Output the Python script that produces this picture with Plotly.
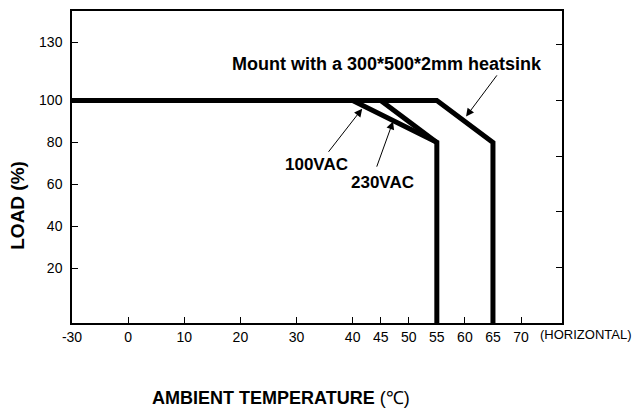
import plotly.graph_objects as go

# ---- data (temperatures in °C, load in %) ----
temp_100vac = [-30, 40, 55, 55]
load_100vac = [100, 100, 80, 0]
temp_230vac = [45, 55]
load_230vac = [100, 80]
temp_heatsink = [-30, 55, 65, 65]
load_heatsink = [100, 100, 80, 0]

x_ticks = [-30, 0, 10, 20, 30, 40, 45, 50, 55, 60, 65, 70]
y_ticks = [20, 40, 60, 80, 100, 130]
y2_tickvals = [1, 2, 3, 4, 5]


# the drawing uses a broken temperature scale (-30..0 compressed) and
# an irregular load scale; map values onto the linear plotting axis
def tx(t):
    return t if t >= 0 else t / 3.0


def ly(v):
    if v < 20:
        return 20 - (20 - v) * 1.311
    if v > 100:
        return 100 + (v - 100) * 0.921
    return v


FONT = "Liberation Sans, Arial, sans-serif"
line_style = dict(color="black", width=5)

fig = go.Figure()
for xs, ys in [(temp_100vac, load_100vac), (temp_230vac, load_230vac),
               (temp_heatsink, load_heatsink)]:
    fig.add_trace(go.Scatter(x=[tx(v) for v in xs], y=[ly(v) for v in ys], mode="lines",
                             line=line_style, showlegend=False, hoverinfo="skip"))
fig.add_trace(go.Scatter(x=[None], y=[None], yaxis="y2", showlegend=False, hoverinfo="skip"))

# geometry (browser body adds 8px offset)
W, H = 634, 404
ML, MR, MT, MB = 64, 80, 1, 89
pw, ph = W - ML - MR, H - MT - MB

ann = []


def label(text, x, y, size):
    ann.append(dict(text="<b>%s</b>" % text, x=x, y=y, xref="x", yref="y", showarrow=False,
                    xanchor="center", yanchor="middle",
                    font=dict(family=FONT, size=size, color="black")))


def arrow(x, y, ax, ay):
    ann.append(dict(text="", x=x, y=y, ax=ax, ay=ay, xref="x", yref="y", axref="x", ayref="y",
                    showarrow=True, arrowhead=2, arrowsize=1.6, arrowwidth=1, arrowcolor="black"))


label("Mount with a 300*500*2mm heatsink", 46.2, 117.4, 18)
label("100VAC", 33.5, 69.6, 17)
label("230VAC", 45.4, 60.8, 17)
arrow(60.2, 92.3, 65.9, 112.7)
arrow(41.7, 96.1, 35.5, 74.8)
arrow(47.2, 90.0, 44.2, 67.7)


def paper_ann(text, sx, sy, size, **kw):
    # sx, sy: screen pixel position of the text centre
    ann.append(dict(text=text, x=(sx - 8 - ML) / pw, y=(H - MB - (sy - 8)) / ph,
                    xref="paper", yref="paper", showarrow=False,
                    xanchor="center", yanchor="middle",
                    font=dict(family=FONT, size=size, color="black"), **kw))


paper_ann("(HORIZONTAL)", 585, 335, 13)
paper_ann("<b>LOAD (%)</b>", 18, 205, 19, textangle=-90)
paper_ann("<b>AMBIENT TEMPERATURE </b>(℃)", 281, 398, 18)

fig.update_layout(
    width=W, height=H,
    margin=dict(l=ML, r=MR, t=MT, b=MB, pad=0),
    paper_bgcolor="white", plot_bgcolor="white",
    font=dict(family=FONT, size=14, color="black"),
    annotations=ann,
    xaxis=dict(range=[-10, 77.3], tickvals=[tx(v) for v in x_ticks],
               ticktext=[str(v) for v in x_ticks],
               showline=True, linecolor="black", linewidth=1.5, mirror=True,
               ticks="inside", ticklen=6, tickcolor="black", tickwidth=1,
               showgrid=False, zeroline=False, fixedrange=True),
    yaxis=dict(range=[-6.2, 142.7], tickvals=[ly(v) for v in y_ticks],
               ticktext=[str(v) for v in y_ticks],
               showline=True, linecolor="black", linewidth=1.5, mirror=True,
               ticks="inside", ticklen=6, tickcolor="black", tickwidth=1,
               ticklabelstandoff=5,
               showgrid=False, zeroline=False, fixedrange=True),
    yaxis2=dict(range=[0, 5.607], tickvals=y2_tickvals, overlaying="y", side="right",
                showticklabels=False, showline=False, ticks="inside", ticklen=6,
                tickcolor="black", tickwidth=1, showgrid=False, zeroline=False, fixedrange=True),
)

fig.write_html("out.html")
